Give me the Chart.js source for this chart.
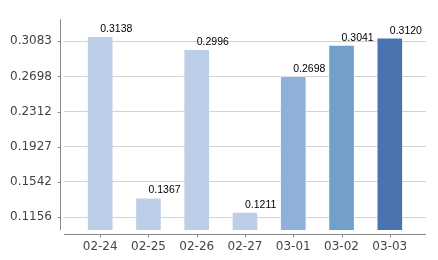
<!DOCTYPE html>
<html lang="en">
<head>
    <meta charset="UTF-8">
    <title>Bar chart</title>
    <script src="https://cdn.jsdelivr.net/npm/chart.js"></script>
    <style>
        html, body { margin: 0; padding: 0; background: #fff; }
        canvas { display: block; }
    </style>
</head>
<body>
    <canvas id="barChart" width="438" height="260"></canvas>

    <script>
        // Data
        const dates = ['02-24', '02-25', '02-26', '02-27', '03-01', '03-02', '03-03'];
        const values = [0.3138, 0.1367, 0.2996, 0.1211, 0.2698, 0.3041, 0.3120];
        const barColors = ['#bdcfe8', '#bdcfe8', '#bdcfe8', '#bdcfe8', '#8eb0d9', '#72a0c8', '#4a73af'];
        const yTicks = [0.1156, 0.1542, 0.1927, 0.2312, 0.2698, 0.3083];
        const yMin = 0.1014;
        const yMax = 0.3325;

        const axisColor = '#8a8a8a';

        // Axis lines sit a few pixels away from the plot area, with small tick marks
        const axisLines = {
            id: 'axisLines',
            afterDraw(chart) {
                const { ctx, chartArea, scales } = chart;
                ctx.save();
                ctx.strokeStyle = axisColor;
                ctx.lineWidth = 1;

                // y axis
                const ax = Math.round(chartArea.left - 4) + 0.5;
                ctx.beginPath();
                ctx.moveTo(ax, chartArea.top);
                ctx.lineTo(ax, chartArea.bottom);
                yTicks.forEach(t => {
                    const y = Math.round(scales.y.getPixelForValue(t)) + 0.5;
                    ctx.moveTo(ax - 3, y);
                    ctx.lineTo(ax, y);
                });
                ctx.stroke();

                // x axis
                const ay = Math.round(chartArea.bottom + 4) + 0.5;
                ctx.beginPath();
                ctx.moveTo(chartArea.left, ay);
                ctx.lineTo(chartArea.right, ay);
                dates.forEach((d, i) => {
                    const x = Math.round(scales.x.getPixelForValue(i)) + 0.5;
                    ctx.moveTo(x, ay);
                    ctx.lineTo(x, ay + 3);
                });
                ctx.stroke();
                ctx.restore();
            }
        };

        // Value labels, left edge at the bar centre
        const valueLabels = {
            id: 'valueLabels',
            afterDatasetsDraw(chart) {
                const { ctx } = chart;
                const meta = chart.getDatasetMeta(0);
                ctx.save();
                ctx.fillStyle = '#000';
                ctx.font = '10.5px "Liberation Sans", Arial, sans-serif';
                ctx.textAlign = 'left';
                ctx.textBaseline = 'bottom';
                meta.data.forEach((bar, i) => {
                    ctx.fillText(values[i].toFixed(4), bar.x, bar.y - 2);
                });
                ctx.restore();
            }
        };

        const ctx = document.getElementById('barChart').getContext('2d');
        new Chart(ctx, {
            type: 'bar',
            data: {
                datasets: [{
                    data: values.map((v, i) => ({ x: i, y: v })),
                    backgroundColor: barColors,
                    borderColor: 'rgba(255,255,255,0.35)',
                    borderWidth: 1,
                    barThickness: 26
                }]
            },
            plugins: [axisLines, valueLabels],
            options: {
                responsive: false,
                animation: false,
                devicePixelRatio: 1,
                layout: { padding: { left: 10, right: 12, top: 10, bottom: 6 } },
                plugins: {
                    legend: { display: false },
                    tooltip: { enabled: false }
                },
                scales: {
                    x: {
                        type: 'linear',
                        offset: false,
                        min: -0.75,
                        max: 6.75,
                        afterBuildTicks(scale) {
                            scale.ticks = dates.map((d, i) => ({ value: i }));
                        },
                        afterFit(scale) { scale.height = 24; },
                        grid: { display: false, drawTicks: false },
                        border: { display: false },
                        ticks: {
                            autoSkip: false,
                            maxRotation: 0,
                            padding: 10,
                            color: '#444',
                            font: { family: '"DejaVu Sans", sans-serif', size: 12 },
                            callback: v => dates[v]
                        }
                    },
                    y: {
                        min: yMin,
                        max: yMax,
                        afterBuildTicks(scale) {
                            scale.ticks = yTicks.map(v => ({ value: v }));
                        },
                        afterFit(scale) { scale.width = 54; },
                        grid: { color: '#d2d2d2', drawTicks: false },
                        border: { display: false },
                        ticks: {
                            padding: 12,
                            color: '#444',
                            font: { family: '"DejaVu Sans", sans-serif', size: 12 },
                            callback: v => v.toFixed(4)
                        }
                    }
                }
            }
        });
    </script>
</body>
</html>
